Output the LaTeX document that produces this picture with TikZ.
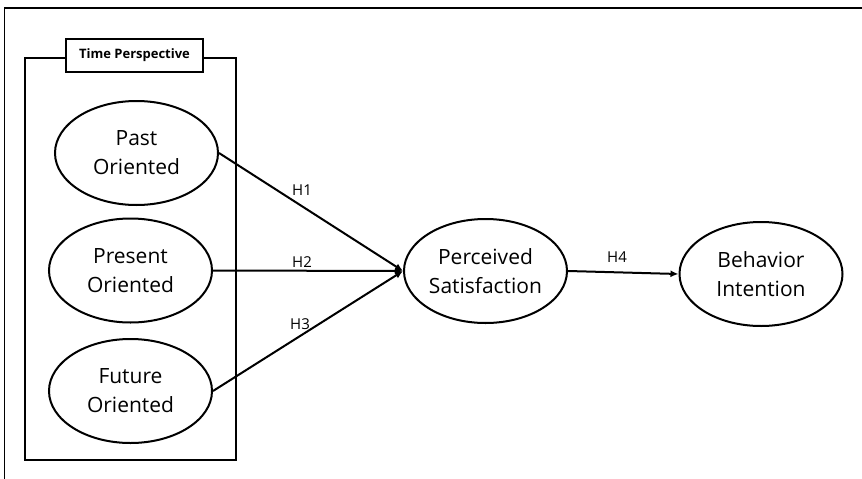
\documentclass[tikz,border=0pt]{standalone}
\usepackage{fontspec}
\setmainfont{Open Sans}
\usetikzlibrary{arrows.meta,shapes.geometric}
\begin{document}
\begin{tikzpicture}[x=1pt,y=-1pt,
  construct/.style={draw, line width=2pt, ellipse, minimum width=163pt, minimum height=104pt, inner sep=0pt, align=center, font=\fontsize{21}{29}\selectfont},
  path/.style={line width=2pt, -{Latex[length=8pt,width=7pt]}},
  hlabel/.style={font=\fontsize{15}{17}\selectfont, inner sep=0pt}]
\useasboundingbox (0,0) rectangle (862,479);
% outer frame (top and left only)
\draw[line width=1.5pt] (862,8) -- (4.5,8) -- (4.5,479);
% time perspective box
\draw[line width=2.2pt] (25,58) rectangle (236,460);
\node[draw, line width=2.2pt, fill=white, minimum width=137pt, minimum height=33pt, inner sep=0pt, font=\bfseries\fontsize{13}{15}\selectfont] (tp) at (134.5,55.5) {Time Perspective};
\node[construct] (past) at (136.5,153) {Past\\Oriented};
\node[construct] (present) at (130.5,270.5) {Present\\Oriented};
\node[construct] (future) at (130.5,391) {Future\\Oriented};
\node[construct] (perc) at (485.5,271) {Perceived\\Satisfaction};
\node[construct] (beh) at (761,274) {Behavior\\Intention};
\coordinate (tip) at (perc.west);
\draw[path] (past.east) -- (tip);
\draw[path] (present.east) -- (tip);
\draw[path] (future.east) -- (tip);
\draw[path] (perc.east) -- (beh.west);
\node[hlabel] (h1) at (302,190) {H1};
\node[hlabel] (h2) at (302,262) {H2};
\node[hlabel] (h3) at (300,324) {H3};
\node[hlabel] (h4) at (617,257) {H4};
\end{tikzpicture}
\end{document}
